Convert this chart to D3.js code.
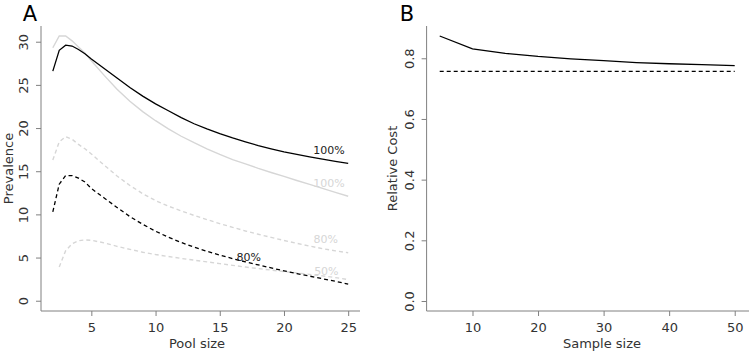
<!DOCTYPE html>
<html><head><meta charset="utf-8">
<script src="https://cdn.jsdelivr.net/npm/d3@7"></script>
<style>body{margin:0;background:#fff} text{font-family:"DejaVu Sans",sans-serif}</style>
</head><body><svg id="c" width="750" height="354"></svg>
<script>
// ---- Panel A data ----
const poolSizes = [2,2.5,3,3.5,4,4.5,5,6,7,8,9,10,11,12,13,14,15,16,17,18,19,20,21,22,23,24,25];
const prevBlack100 = [26.6,29.0,29.6,29.5,29.1,28.6,28.0,26.9,25.8,24.7,23.7,22.8,22.0,21.2,20.5,19.9,19.35,18.85,18.4,17.97,17.6,17.25,16.95,16.66,16.4,16.15,15.9];
const prevGrey100  = [29.3,30.66,30.66,30.1,29.4,28.7,27.8,26.1,24.5,23.1,21.9,20.85,19.9,19.05,18.3,17.6,16.95,16.35,15.85,15.33,14.85,14.4,13.93,13.47,13.01,12.55,12.1];
const prevGrey80   = [16.3,18.4,19.0,18.7,18.1,17.6,17.0,15.7,14.45,13.35,12.4,11.6,10.95,10.4,9.88,9.4,8.93,8.5,8.08,7.7,7.33,6.98,6.65,6.33,6.03,5.78,5.56];
const prevBlack80  = [10.3,13.5,14.5,14.5,14.2,13.75,13.0,11.9,10.8,9.75,8.85,8.05,7.35,6.75,6.2,5.72,5.28,4.88,4.5,4.15,3.8,3.47,3.15,2.85,2.55,2.25,1.93];
const prevGrey50   = [null,3.9,5.8,6.6,6.95,7.05,7.0,6.7,6.3,5.95,5.62,5.35,5.12,4.9,4.7,4.5,4.3,4.1,3.9,3.72,3.55,3.38,3.22,3.05,2.88,2.68,2.45];
const poolTicks = [5,10,15,20,25];
const prevTicks = [0,5,10,15,20,25,30];
const curveLabelText = ["100%","100%","80%","80%","50%"];
const curveLabelX    = [23.5,23.5,23.25,17.25,23.3];
const curveLabelY    = [17.45,13.6,7.1,5.1,3.44];
const curveLabelDark = [true,false,false,true,false];

// ---- Panel B data ----
const sampleSizes = [5,10,15,20,25,30,35,40,45,50];
const costSolid  = [0.8735,0.831,0.8165,0.806,0.798,0.792,0.786,0.782,0.779,0.776];
const costDashed = [0.757,0.757,0.757,0.757,0.757,0.757,0.757,0.757,0.757,0.757];
const sampleTicks = [10,20,30,40,50];
const costTicks = [0,0.2,0.4,0.6,0.8];

const GREY = "#d6d6d6", AXIS = "#808080", TXT = "#333";
const svg = d3.select("#c");

function panel(cfg){
  const g = svg.append("g");
  const x = cfg.x, y = cfg.y;
  const [x0,x1] = x.range(), [y0,y1] = y.range();
  g.append("path").attr("d", `M${x0},${y1}V${y0}H${Math.min(x1,749)}`)
    .attr("fill","none").attr("stroke",AXIS).attr("stroke-width",1);
  const ax = g.append("g").attr("transform",`translate(0,${y0})`)
    .call(d3.axisBottom(x).tickValues(cfg.xticks).tickSize(5).tickPadding(4));
  ax.select(".domain").remove();
  ax.selectAll("line").attr("stroke",AXIS);
  ax.selectAll("text").attr("fill",TXT).style("font-size","13px").attr("dy","0.9em");
  const ay = g.append("g").attr("transform",`translate(${x0},0)`)
    .call(d3.axisLeft(y).tickValues(cfg.yticks).tickSize(5).tickFormat(cfg.yfmt));
  ay.select(".domain").remove();
  ay.selectAll("line").attr("stroke",AXIS);
  ay.selectAll("text").attr("fill",TXT).style("font-size","13px")
    .attr("transform","rotate(-90)").attr("x",0).attr("y",-13).attr("dy",0)
    .attr("text-anchor","middle");
  g.append("text").attr("x",cfg.xtitleX).attr("y",348).attr("text-anchor","middle")
    .attr("fill",TXT).style("font-size","13px").text(cfg.xtitle);
  g.append("text").attr("transform",`translate(${cfg.ytitleX},${(y0+y1)/2}) rotate(-90)`)
    .attr("text-anchor","middle").attr("fill",TXT).style("font-size","13px").text(cfg.ytitle);
  g.append("text").attr("x",cfg.letterX).attr("y",21).attr("text-anchor","middle")
    .attr("fill","#000").style("font-size","21px").text(cfg.letter);
  return g;
}

// Panel A
const xA = d3.scaleLinear().domain([1.08,25.92]).range([41,360]);
const yA = d3.scaleLinear().domain([-1.19,31.82]).range([311,26]);
const gA = panel({x:xA,y:yA,xticks:poolTicks,yticks:prevTicks,yfmt:d3.format("d"),
  xtitle:"Pool size",ytitle:"Prevalence",xtitleX:197,ytitleX:13,letter:"A",letterX:30});
const lineA = vals => d3.line().defined((d,i)=>vals[i]!=null)
  .x((d,i)=>xA(poolSizes[i])).y((d,i)=>yA(vals[i]))(poolSizes);
const seriesA = [
  {v:prevGrey100, c:GREY, dash:null, w:1.4},
  {v:prevGrey80,  c:GREY, dash:"4,3", w:1.4},
  {v:prevGrey50,  c:GREY, dash:"4,3", w:1.4},
  {v:prevBlack100,c:"#000",dash:null, w:1.3},
  {v:prevBlack80, c:"#000",dash:"4,3", w:1.3}
];
seriesA.forEach(s=>{
  gA.append("path").attr("d",lineA(s.v)).attr("fill","none").attr("stroke",s.c)
    .attr("stroke-width",s.w).attr("stroke-dasharray",s.dash);
});
curveLabelText.forEach((t,i)=>{
  gA.append("text").attr("x",xA(curveLabelX[i])).attr("y",yA(curveLabelY[i]))
    .attr("dy","0.35em").attr("text-anchor","middle").style("font-size","11px")
    .attr("fill",curveLabelDark[i]?"#222":GREY).text(t);
});

// Panel B
const xB = d3.scaleLinear().domain([3,57]).range([426.6,780.6]);
const yB = d3.scaleLinear().domain([-0.033,0.9064]).range([311,26]);
const gB = panel({x:xB,y:yB,xticks:sampleTicks,yticks:costTicks,yfmt:d3.format(".1f"),
  xtitle:"Sample size",ytitle:"Relative Cost",xtitleX:602,ytitleX:397,letter:"B",letterX:407});
const lineB = vals => d3.line().x((d,i)=>xB(sampleSizes[i])).y((d,i)=>yB(vals[i]))(sampleSizes);
gB.append("path").attr("d",lineB(costSolid)).attr("fill","none").attr("stroke","#000").attr("stroke-width",1.3);
gB.append("path").attr("d",lineB(costDashed)).attr("fill","none").attr("stroke","#000").attr("stroke-width",1.3).attr("stroke-dasharray","4,3");
</script></body></html>
